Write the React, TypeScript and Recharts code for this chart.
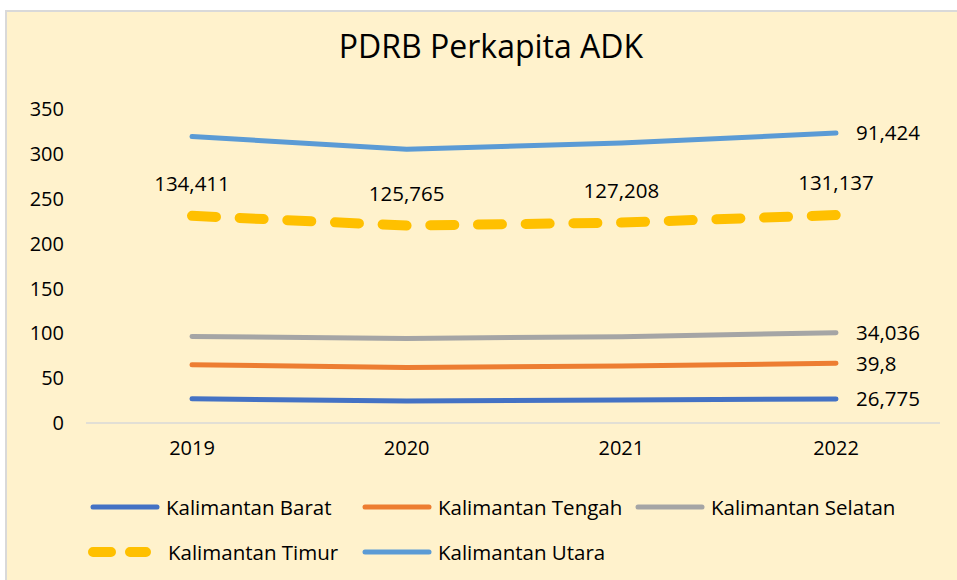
import React from "react";
import { LineChart, Line, XAxis, YAxis, LabelList } from "recharts";

const years = ["2019", "2020", "2021", "2022"];
const barat = [26.9, 24.6, 25.6, 26.775];
const tengah = [37.9, 37.4, 37.9, 39.8];
const selatan = [31.7, 32.3, 32.7, 34.036];
const timur = [134.411, 125.765, 127.208, 131.137];
const utara = [88.4, 85.2, 88.6, 91.424];
const yTicks = [0, 50, 100, 150, 200, 250, 300, 350];

const series = [
  { key: "barat", name: "Kalimantan Barat", values: barat, color: "#4472C4", dashed: false },
  { key: "tengah", name: "Kalimantan Tengah", values: tengah, color: "#ED7D31", dashed: false },
  { key: "selatan", name: "Kalimantan Selatan", values: selatan, color: "#A5A5A5", dashed: false },
  { key: "timur", name: "Kalimantan Timur", values: timur, color: "#FFC000", dashed: true },
  { key: "utara", name: "Kalimantan Utara", values: utara, color: "#5B9BD5", dashed: false },
];

// stacked line chart: each line sits on top of the previous ones
const data = years.map((year, i) => {
  const row: Record<string, number | string> = { year };
  let sum = 0;
  series.forEach((s) => {
    sum += s.values[i];
    row[s.key] = sum;
    row[s.key + "_raw"] = s.values[i];
  });
  return row;
});

const fmt = (v: number) => String(v).replace(".", ",");
const FONT = "'Open Sans', 'Noto Sans', sans-serif";

const lastLabel = (props: any) => {
  const { x, y, index, value } = props;
  if (index !== years.length - 1) return null;
  return (
    <text x={x + 20} y={y} dy="0.36em" fontSize={20.5} fill="#000" fontFamily={FONT}>
      {fmt(value)}
    </text>
  );
};

const legendPos = [
  { left: 90, top: 507 },
  { left: 362, top: 507 },
  { left: 635, top: 507 },
  { left: 88, top: 552 },
  { left: 362, top: 552 },
];

export default function App() {
  return (
    <div style={{ position: "absolute", left: 0, top: 0, width: 957, height: 580, background: "#fff", fontFamily: FONT }}>
      <div
        style={{
          position: "absolute", left: 5, top: 10, width: 960, height: 580,
          background: "#FFF2CC", borderTop: "2px solid #D9D9D9", borderLeft: "2px solid #D9D9D9",
        }}
      />
      <LineChart
        width={957}
        height={580}
        data={data}
        margin={{ top: 109, right: 17, bottom: 127, left: 0 }}
        style={{ position: "absolute", left: 0, top: 0 }}
      >
        <XAxis
          dataKey="year"
          padding={{ left: 106, right: 104 }}
          tickLine={false}
          axisLine={{ stroke: "#D9D9D9", strokeWidth: 1.5 }}
          tick={{ fontSize: 20, fill: "#000", fontFamily: FONT }}
          tickMargin={12}
          height={30}
        />
        <YAxis
          domain={[0, 350]}
          ticks={yTicks}
          axisLine={false}
          tickLine={false}
          width={86}
          tickMargin={16}
          tick={{ fontSize: 20, fill: "#000", fontFamily: FONT }}
        />
        {series.map((s) => (
          <Line
            key={s.key}
            dataKey={s.key}
            name={s.name}
            stroke={s.color}
            strokeWidth={s.dashed ? 10 : 5}
            strokeDasharray={s.dashed ? "24 23.7" : undefined}
            strokeLinecap="round"
            strokeLinejoin="round"
            type="linear"
            dot={false}
            activeDot={false}
            isAnimationActive={false}
          >
            {s.dashed ? (
              <LabelList
                dataKey={s.key + "_raw"}
                position="top"
                offset={25}
                formatter={(v: any) => fmt(v)}
                style={{ fontSize: 20.5, fill: "#000", fontFamily: FONT }}
              />
            ) : (
              <LabelList dataKey={s.key + "_raw"} content={lastLabel} />
            )}
          </Line>
        ))}
      </LineChart>
      <div
        style={{
          position: "absolute", left: 491, top: 30, transform: "translateX(-50%)",
          fontSize: 32, lineHeight: "32px", color: "#000", whiteSpace: "nowrap",
        }}
      >
        PDRB Perkapita ADK
      </div>
      {series.map((s, i) => (
        <div
          key={s.key}
          style={{
            position: "absolute", left: legendPos[i].left, top: legendPos[i].top - 15,
            height: 30, display: "flex", alignItems: "center", whiteSpace: "nowrap",
          }}
        >
          <svg width={s.dashed ? 80 : 78} height={12}>
            {s.dashed ? (
              <line x1={5} y1={6} x2={58} y2={6} stroke={s.color} strokeWidth={10}
                strokeDasharray="18 19" strokeLinecap="round" />
            ) : (
              <line x1={3} y1={6} x2={67} y2={6} stroke={s.color} strokeWidth={5} strokeLinecap="round" />
            )}
          </svg>
          <span style={{ fontSize: 20.5, color: "#000", marginLeft: s.dashed ? 0 : -2 }}>{s.name}</span>
        </div>
      ))}
    </div>
  );
}
